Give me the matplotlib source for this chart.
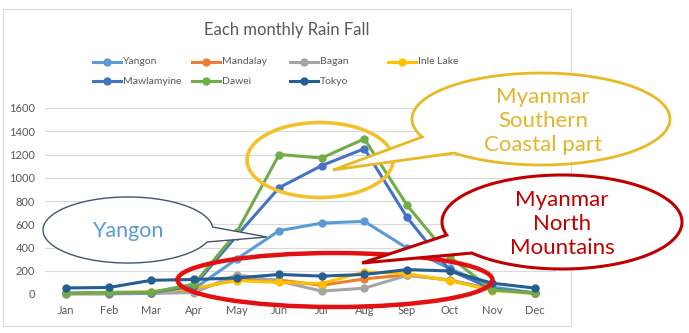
import numpy as np
import matplotlib
matplotlib.use('Agg')
import matplotlib.pyplot as plt
from matplotlib.patches import Ellipse, Polygon, Rectangle
from matplotlib.lines import Line2D

plt.rcParams['font.family'] = ['Lato', 'DejaVu Sans']

# monthly rainfall (mm)
months = ['Jan', 'Feb', 'Mar', 'Apr', 'May', 'Jun', 'Jul', 'Aug', 'Sep', 'Oct', 'Nov', 'Dec']
yangon = [5, 3, 10, 45, 300, 545, 610, 625, 395, 220, 60, 10]
mandalay = [2, 3, 5, 35, 130, 120, 75, 130, 165, 120, 40, 5]
bagan = [1, 2, 5, 12, 165, 110, 25, 50, 160, 120, 40, 5]
inle_lake = [5, 10, 20, 50, 115, 100, 90, 190, 175, 115, 30, 5]
mawlamyine = [8, 10, 12, 70, 500, 915, 1105, 1250, 660, 205, 45, 8]
dawei = [5, 15, 15, 85, 530, 1200, 1170, 1335, 765, 320, 35, 8]
tokyo = [52, 56, 118, 125, 138, 168, 154, 168, 210, 198, 93, 51]

series = [('Yangon', yangon, '#5B9BD5'),
          ('Mandalay', mandalay, '#ED7D31'),
          ('Bagan', bagan, '#A5A5A5'),
          ('Inle Lake', inle_lake, '#FFC000'),
          ('Mawlamyine', mawlamyine, '#4472C4'),
          ('Dawei', dawei, '#70AD47'),
          ('Tokyo', tokyo, '#255E91')]

W, H = 689, 333
fig = plt.figure(figsize=(W / 100, H / 100), dpi=100)

# plot area in pixels: x 45..556, y 108..294
ax = fig.add_axes([45 / W, 1 - 294 / H, 511 / W, 186 / H])
x = np.arange(len(months))
for name, vals, col in series:
    ax.plot(x, vals, color=col, lw=2.2, marker='o', ms=5, clip_on=False, zorder=3)

ax.set_xlim(-0.5, 11.5)
ax.set_ylim(0, 1600)
ax.set_yticks(range(0, 1601, 200))
ax.set_xticks(x)
ax.set_xticklabels(months)
ax.grid(axis='y', color='#D9D9D9', lw=0.8)
ax.set_axisbelow(True)
for s in ax.spines.values():
    s.set_visible(False)
ax.tick_params(length=0, colors='#595959', labelsize=8)
ax.tick_params(axis='x', pad=8)
ax.tick_params(axis='y', pad=7)

# overlay in pixel coordinates for title, legend and callouts
ov = fig.add_axes([0, 0, 1, 1], facecolor='none')
ov.set_xlim(0, W)
ov.set_ylim(H, 0)
ov.axis('off')

ov.add_patch(Rectangle((3, 9), 568, 317, fill=False, ec='#D9D9D9', lw=0.8))
ov.text(287, 30, 'Each monthly Rain Fall', ha='center', va='center',
        fontsize=12, color='#595959')

# legend, row-wise like Excel
legend_pos = [(93, 62), (192, 62), (290, 62), (388, 62),
              (93, 81), (192, 81), (290, 81)]
for (name, vals, col), (lx, ly) in zip(series, legend_pos):
    ov.add_line(Line2D([lx, lx + 28], [ly, ly], color=col, lw=2.2))
    ov.plot([lx + 14], [ly], 'o', color=col, ms=5)
    ov.text(lx + 30, ly, name, va='center', fontsize=7.5, color='#595959')


def callout(cx, cy, a, b, t1, t2, tip, ec, lw):
    # ellipse with a pointed tail between angles t1 < t2
    t = np.linspace(t2, t1 + 2 * np.pi, 200)
    pts = np.column_stack([cx + a * np.cos(t), cy + b * np.sin(t)])
    pts = np.vstack([pts, tip])
    ov.add_patch(Polygon(pts, closed=True, fc='white', ec=ec, lw=lw, zorder=5))


# highlight rings
ov.add_patch(Ellipse((320, 160), 146, 75, fill=False, ec='#F2C12E', lw=2.6, zorder=4))
ov.add_patch(Ellipse((335, 280), 315, 54, fill=False, ec='#E3100F', lw=3.2, zorder=4))

callout(128, 230, 85, 33, -0.09, 0.37, (267, 237), '#44546A', 1.0)
ov.text(128, 231, 'Yangon', ha='center', va='center', fontsize=15.5,
        color='#5B9BD5', zorder=6)

callout(541, 119, 129, 46, 2.31, 2.74, (333, 170), '#E8B923', 2.0)
ov.text(543, 121, 'Myanmar\nSouthern\nCoastal part', ha='center', va='center',
        fontsize=16, color='#E2B52C', linespacing=1.25, zorder=6)

callout(562, 222, 120, 47, 2.42, 2.86, (362, 263), '#C00000', 2.2)
ov.text(562, 224, 'Myanmar\nNorth\nMountains', ha='center', va='center',
        fontsize=16, color='#C00000', linespacing=1.25, zorder=6)

fig.savefig('out.png', dpi=100)
